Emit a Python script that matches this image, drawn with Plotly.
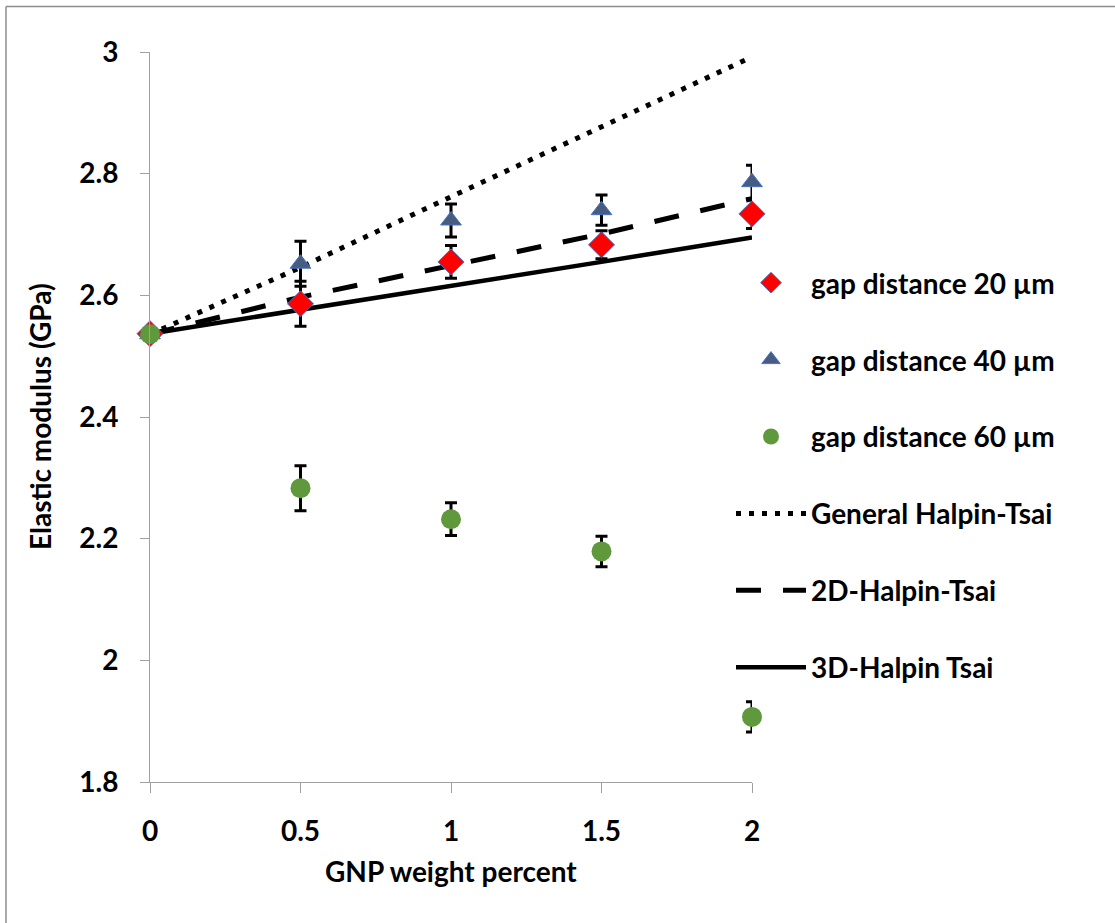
import plotly.graph_objects as go

# ---------------- data ----------------
x_gnp = [0, 0.5, 1, 1.5, 2]

gap20 = [2.537, 2.586, 2.655, 2.683, 2.734]
gap20_err = [0.0, 0.037, 0.027, 0.023, 0.024]

gap40 = [2.536, 2.652, 2.723, 2.740, 2.786]
gap40_err = [0.0, 0.037, 0.027, 0.025, 0.028]

gap60 = [2.536, 2.283, 2.232, 2.179, 1.907]
gap60_err = [0.0, 0.037, 0.027, 0.025, 0.025]

general_ht = [2.536, 2.646, 2.762, 2.877, 2.992]
ht_2d = [2.536, 2.597, 2.649, 2.701, 2.759]
ht_3d = [2.537, 2.576, 2.616, 2.655, 2.695]

x_ticks = [0, 0.5, 1, 1.5, 2]
y_ticks = [1.8, 2, 2.2, 2.4, 2.6, 2.8, 3]

# ---------------- layout constants ----------------
W, H = 1115, 923
L, R, T, B = 150, 752, 52, 782
FONT = "Lato"
FS = 28


def px(xp):
    return (xp - L) / (R - L)


def py(yp):
    return (B - yp) / (B - T)


fig = go.Figure()

err_style = dict(type="data", visible=True, color="black", thickness=3, width=6)

# model lines (drawn first so markers sit on top)
fig.add_trace(go.Scatter(
    x=x_gnp, y=general_ht, mode="lines", name="General Halpin-Tsai",
    line=dict(color="black", width=5, dash="5px,8px"),
    legendgroup="g4", legendrank=4, cliponaxis=False))
fig.add_trace(go.Scatter(
    x=x_gnp, y=ht_2d, mode="lines", name="2D-Halpin-Tsai",
    line=dict(color="black", width=5, dash="25px,22px"),
    legendgroup="g5", legendrank=5, cliponaxis=False))
fig.add_trace(go.Scatter(
    x=x_gnp, y=ht_3d, mode="lines", name="3D-Halpin Tsai",
    line=dict(color="black", width=4.5),
    legendgroup="g6", legendrank=6, cliponaxis=False))

# measured data
fig.add_trace(go.Scatter(
    x=x_gnp, y=gap20, mode="markers", name="gap distance 20 µm",
    marker=dict(symbol="diamond", size=20, color="#FF0000",
                line=dict(color="#4472C4", width=1)),
    error_y=dict(array=gap20_err, **err_style),
    legendgroup="g1", legendrank=1, cliponaxis=False))
fig.add_trace(go.Scatter(
    x=x_gnp, y=gap40, mode="markers", name="gap distance 40 µm",
    marker=dict(symbol="triangle-up", size=18, color="#485C80",
                line=dict(color="#4472C4", width=1)),
    error_y=dict(array=gap40_err, **err_style),
    legendgroup="g2", legendrank=2, cliponaxis=False))
fig.add_trace(go.Scatter(
    x=x_gnp, y=gap60, mode="markers", name="gap distance 60 µm",
    marker=dict(symbol="circle", size=20, color="#5F993B",
                line=dict(color="#5F993B", width=0)),
    error_y=dict(array=gap60_err, **err_style),
    legendgroup="g3", legendrank=3, cliponaxis=False))

axis_common = dict(
    showgrid=False, zeroline=False, showline=True,
    linecolor="#A0A0A0", linewidth=1,
    ticks="outside", tickcolor="#A0A0A0", tickwidth=1,
    tickfont=dict(family=FONT, size=FS, color="black", weight="bold"),
)

fig.update_xaxes(range=[0, 2], tickvals=x_ticks, ticklen=10,
                 ticklabelstandoff=14, **axis_common)
fig.update_yaxes(range=[1.8, 3], tickvals=y_ticks, ticklen=9,
                 ticklabelstandoff=16, **axis_common)

annotations = [
    dict(text="<b>GNP weight percent</b>", x=px(451), y=py(871),
         xref="paper", yref="paper", showarrow=False,
         font=dict(family=FONT, size=FS, color="black"),
         xanchor="center", yanchor="middle"),
    dict(text="<b>Elastic modulus (GPa)</b>", x=px(40), y=py(417),
         xref="paper", yref="paper", showarrow=False, textangle=-90,
         font=dict(family=FONT, size=FS, color="black"),
         xanchor="center", yanchor="middle"),
]

shapes = [
    # outer chart frame (top and left edges visible)
    dict(type="line", xref="paper", yref="paper",
         x0=px(6), x1=px(W + 5), y0=py(6.5), y1=py(6.5),
         line=dict(color="#8C8C8C", width=1.5)),
    dict(type="line", xref="paper", yref="paper",
         x0=px(6), x1=px(6), y0=py(6.5), y1=py(H + 5),
         line=dict(color="#8C8C8C", width=1.5)),
]

fig.update_layout(
    width=W, height=H,
    margin=dict(l=L, r=W - R, t=T, b=H - B, autoexpand=False),
    plot_bgcolor="white", paper_bgcolor="white",
    showlegend=True,
    legend=dict(
        x=px(731), y=py(258), xanchor="left", yanchor="top",
        traceorder="grouped", tracegroupgap=37.5, itemwidth=70,
        font=dict(family=FONT, size=FS, color="black", weight="bold"),
        bgcolor="rgba(0,0,0,0)", borderwidth=0,
    ),
    annotations=annotations,
    shapes=shapes,
)

fig.write_html("out.html")
